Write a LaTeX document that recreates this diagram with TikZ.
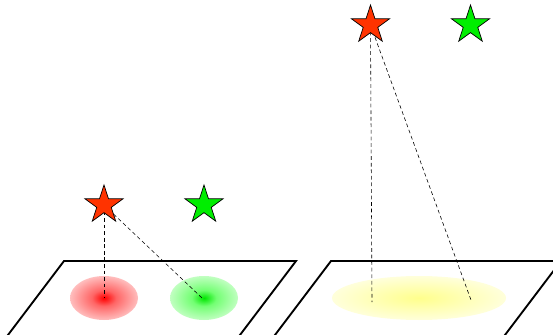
\documentclass[tikz,border=0pt]{standalone}
\usetikzlibrary{shapes.geometric}
\definecolor{starred}{RGB}{255, 51, 0}
\definecolor{stargreen}{RGB}{0, 238, 0}
\pgfdeclareradialshading{redspot}{\pgfpointorigin}{color(0bp)=(red); color(9bp)=(red!60); color(30bp)=(red!15); color(50bp)=(red!10)}
\pgfdeclareradialshading{greenspot}{\pgfpointorigin}{color(0bp)=(green!90!black); color(9bp)=(green!55); color(30bp)=(green!15); color(50bp)=(green!10)}
\pgfdeclareradialshading{yellowspot}{\pgfpointorigin}{color(0bp)=(yellow!45); color(12bp)=(yellow!30); color(30bp)=(yellow!8); color(50bp)=(yellow!5)}
\pgfdeclarelayer{bg}
\pgfsetlayers{bg,main}

\begin{document}
\begin{tikzpicture}[
        x=0.03cm, y=-0.03cm,
        starnode/.style={star, star points=5, star point ratio=2.618,
            minimum size=1.2cm, inner sep=0pt, draw=black, line width=0.6pt},
        plane/.style={line width=1.6pt, line join=miter},
        ray/.style={line width=0.5pt, dash pattern=on 3.2pt off 2.4pt}
    ]
    \useasboundingbox (0,0) rectangle (553,335);
    \clip (0,0) rectangle (553,335);

    % two planes
    \draw[plane] (64,261) -- (296,261) -- (232.4,345) -- (0.4,345) -- cycle;
    \draw[plane] (331,261) -- (561,261) -- (497.4,345) -- (267.4,345) -- cycle;

    % near stars
    \node[starnode, fill=starred] (rs1) at (104,205) {};
    \node[starnode, fill=stargreen] (gs1) at (204,205) {};

    % far stars
    \node[starnode, fill=starred] (rs2) at (370.5,25) {};
    \node[starnode, fill=stargreen] (gs2) at (470.5,25) {};

    \coordinate (p1) at (104,298);
    \coordinate (p2) at (202,298);
    \coordinate (p3) at (372,302);
    \coordinate (p4) at (471,300);

    \begin{pgfonlayer}{bg}
        \shade[shading=redspot] (104,298) ellipse [x radius=34, y radius=22];
        \shade[shading=greenspot] (204,298) ellipse [x radius=34, y radius=22];
        \shade[shading=yellowspot] (419,298) ellipse [x radius=87, y radius=22];

        \draw[ray] (rs1.center) -- (p1);
        \draw[ray] (rs1.center) -- (p2);
        \draw[ray] (rs2.center) -- (p3);
        \draw[ray] (rs2.center) -- (p4);
    \end{pgfonlayer}
\end{tikzpicture}
\end{document}
